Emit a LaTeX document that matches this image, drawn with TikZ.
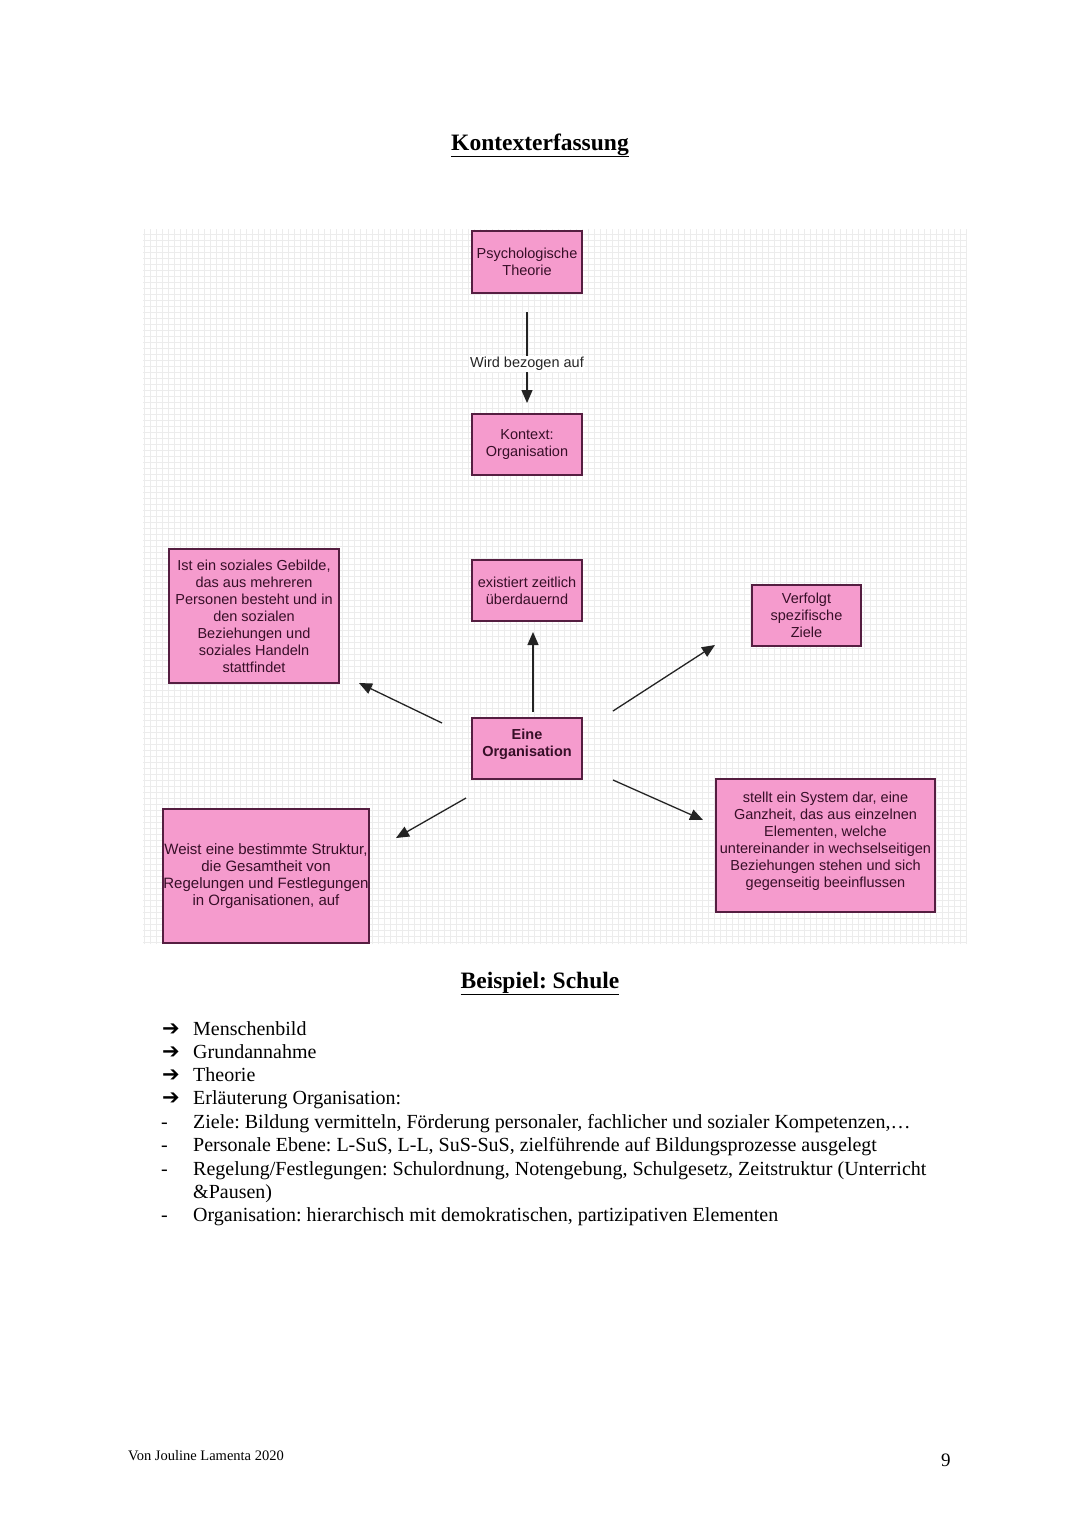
\documentclass[tikz,border=0pt]{standalone}
\usepackage{fontspec}
\setmainfont{Liberation Serif}
\newfontfamily\arialf{Liberation Sans}
\newfontfamily\symf{DejaVu Sans}
\usetikzlibrary{arrows.meta}
\definecolor{boxfill}{RGB}{245,155,205}
\definecolor{boxline}{RGB}{85,30,65}
\definecolor{boxtext}{RGB}{55,15,40}
\definecolor{gridc}{RGB}{236,236,236}
\definecolor{arrc}{RGB}{35,35,35}
\frenchspacing
\begin{document}
\begin{tikzpicture}[x=1pt,y=-1pt,
  box/.style={draw=boxline, line width=1.2pt, fill=boxfill, text=boxtext,
    font=\arialf\fontsize{14.5}{17}\selectfont, align=center, inner sep=0pt},
  conn/.style={draw=arrc, line width=1.3pt, -{Triangle[length=13pt,width=11pt]}},
  bodytext/.style={anchor=base west, inner sep=0pt, font=\fontsize{20}{23}\selectfont},
  bul/.style={anchor=base west, inner sep=0pt, font=\symf\bfseries\fontsize{21}{24}\selectfont},
  dashmark/.style={anchor=base west, inner sep=0pt, font=\fontsize{20}{23}\selectfont},
  headline/.style={anchor=base, inner sep=0pt, font=\bfseries\fontsize{23.5}{27}\selectfont}]
\useasboundingbox[fill=white] (0,0) rectangle (1080,1527);

% title
\node[headline] (title) at (540,150) {\underline{Kontexterfassung}};

% grid background
\draw[gridc, line width=0.4pt, xstep=6pt, ystep=6pt] (143,229) grid (967,944);

% boxes
\node[box, minimum width=110pt, minimum height=62pt] (psy) at (527,262) {Psychologische\\Theorie};
\node[box, minimum width=110pt, minimum height=61pt] (ctx) at (527,444.5) {Kontext:\\Organisation};
\node[box, minimum width=110pt, minimum height=61pt] (exi) at (527,590.5) {existiert zeitlich\\überdauernd};
\node[box, minimum width=110pt, minimum height=61pt, font=\arialf\bfseries\fontsize{14.5}{17}\selectfont] (org) at (527,748.5) {Eine\\Organisation\\[-5pt]};
\node[box, minimum width=170pt, minimum height=134pt] (soz) at (254,616) {Ist ein soziales Gebilde,\\das aus mehreren\\Personen besteht und in\\den sozialen\\Beziehungen und\\soziales Handeln\\stattfindet};
\node[box, minimum width=109pt, minimum height=61pt] (ziel) at (806.5,615.5) {Verfolgt\\spezifische\\Ziele};
\node[box, minimum width=219pt, minimum height=133pt] (sys) at (825.5,845.5) {stellt ein System dar, eine\\Ganzheit, das aus einzelnen\\Elementen, welche\\untereinander in wechselseitigen\\Beziehungen stehen und sich\\gegenseitig beeinflussen\\[-5pt]};
\node[box, minimum width=206pt, minimum height=134pt, font=\arialf\fontsize{15}{17}\selectfont] (str) at (266,876) {\mbox{}\\[-5pt]Weist eine bestimmte Struktur,\\die Gesamtheit von\\Regelungen und Festlegungen\\in Organisationen, auf};

% connector end points
\coordinate (a1s) at (527,312);
\coordinate (a1e) at (527,403);
\coordinate (a2s) at (533,712);
\coordinate (a2e) at (533,632);
\coordinate (a3s) at (442,723);
\coordinate (a3e) at (359,683);
\coordinate (a4s) at (613,711);
\coordinate (a4e) at (715,645);
\coordinate (a5s) at (613,780);
\coordinate (a5e) at (703,820);
\coordinate (a6s) at (466,798);
\coordinate (a6e) at (396,838);

\draw[conn] (a1s) -- (a1e);
\node[fill=white, inner sep=1pt, font=\arialf\fontsize{14.5}{17}\selectfont, text=black!85] (lbl) at (527,364) {Wird bezogen auf};
\draw[conn] (a2s) -- (a2e);
\draw[conn] (a3s) -- (a3e);
\draw[conn] (a4s) -- (a4e);
\draw[conn] (a5s) -- (a5e);
\draw[conn] (a6s) -- (a6e);

% second heading
\node[headline] (bsp) at (540,988) {\underline{Beispiel: Schule}};

% list
\node[bul] (b1) at (162,1035) {➔};
\node[bodytext] (t1) at (193,1035) {Menschenbild};
\node[bul] (b2) at (162,1058) {➔};
\node[bodytext] (t2) at (193,1058) {Grundannahme};
\node[bul] (b3) at (162,1081) {➔};
\node[bodytext] (t3) at (193,1081) {Theorie};
\node[bul] (b4) at (162,1104) {➔};
\node[bodytext] (t4) at (193,1104) {Erläuterung Organisation:};
\node[dashmark] (d1) at (161,1128) {-};
\node[bodytext] (t5) at (193,1128) {Ziele: Bildung vermitteln, Förderung personaler, fachlicher und sozialer Kompetenzen,\dots};
\node[dashmark] (d2) at (161,1151) {-};
\node[bodytext] (t6) at (193,1151) {Personale Ebene: L-SuS, L-L, SuS-SuS, zielführende auf Bildungsprozesse ausgelegt};
\node[dashmark] (d3) at (161,1175) {-};
\node[bodytext] (t7) at (193,1175) {Regelung/Festlegungen: Schulordnung, Notengebung, Schulgesetz, Zeitstruktur (Unterricht};
\node[bodytext] (t8) at (193,1198) {\&Pausen)};
\node[dashmark] (d4) at (161,1221) {-};
\node[bodytext] (t9) at (193,1221) {Organisation: hierarchisch mit demokratischen, partizipativen Elementen};

% footer
\node[anchor=base west, inner sep=0pt, font=\fontsize{14.5}{17}\selectfont] (foot) at (128,1460) {Von Jouline Lamenta 2020};
\node[anchor=base west, inner sep=0pt, font=\fontsize{19}{22}\selectfont] (page) at (941,1466) {9};
\end{tikzpicture}
\end{document}
